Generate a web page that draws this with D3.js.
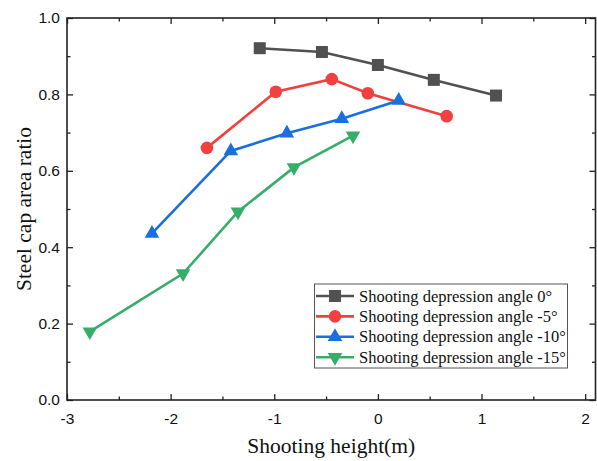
<!DOCTYPE html>
<html><head><meta charset="utf-8">
<script src="https://cdn.jsdelivr.net/npm/d3@7"></script>
<style>body{margin:0;background:#fff}svg{display:block}</style>
</head><body>
<svg id="c" width="597" height="461"></svg>
<script>
const seriesNames = ["Shooting depression angle 0°","Shooting depression angle -5°","Shooting depression angle -10°","Shooting depression angle -15°"];
const x0 = [-1.14,-0.54,0.00,0.54,1.14];
const y0 = [0.921,0.911,0.877,0.838,0.797];
const x5 = [-1.65,-0.985,-0.445,-0.097,0.664];
const y5 = [0.660,0.807,0.840,0.803,0.743];
const x10 = [-2.18,-1.419,-0.878,-0.348,0.201];
const y10 = [0.436,0.652,0.698,0.736,0.784];
const x15 = [-2.78,-1.88,-1.35,-0.81,-0.24];
const y15 = [0.179,0.331,0.493,0.609,0.692];
const xTicks = [-3,-2,-1,0,1,2];
const xTickLabels = ["-3","-2","-1","0","1","2"];
const yTicks = [0.0,0.2,0.4,0.6,0.8,1.0];
const yTickLabels = ["0.0","0.2","0.4","0.6","0.8","1.0"];
const xMinor = [-2.5,-1.5,-0.5,0.5,1.5];
const yMinor = [0.1,0.3,0.5,0.7,0.9];
const colors = ["#515151","#F14040","#1A6FDF","#37AD6B"];
const symbols = ["square","circle","up","down"];

const svg = d3.select("#c");
const L=67,R=595.5,T=18,B=400;
const x = d3.scaleLinear().domain([-3,2.1]).range([L,R]);
const y = d3.scaleLinear().domain([0,1]).range([B,T]);

const series = [[x0,y0],[x5,y5],[x10,y10],[x15,y15]].map((s,i)=>({
  name:seriesNames[i], color:colors[i], sym:symbols[i],
  pts:s[0].map((v,j)=>[v,s[1][j]])
}));

function marker(g, sym, color){
  if(sym==="square") g.append("rect").attr("x",-6).attr("y",-6).attr("width",12).attr("height",12).attr("fill",color);
  else if(sym==="circle") g.append("circle").attr("r",6.3).attr("fill",color);
  else if(sym==="up") g.append("path").attr("d","M0,-8.5L7.3,4.2L-7.3,4.2Z").attr("fill",color);
  else g.append("path").attr("d","M0,8.5L7.3,-4.2L-7.3,-4.2Z").attr("fill",color);
}

const line = d3.line().x(d=>x(d[0])).y(d=>y(d[1]));
series.forEach(s=>{
  svg.append("path").attr("d",line(s.pts)).attr("fill","none").attr("stroke",s.color).attr("stroke-width",2.6);
});
series.forEach(s=>{
  s.pts.forEach(p=>{
    const g=svg.append("g").attr("transform",`translate(${x(p[0])},${y(p[1])})`);
    marker(g,s.sym,s.color);
  });
});

// axes
const axCol="#222";
function style(g){
  g.selectAll(".domain").remove();
  g.selectAll(".tick line").attr("stroke",axCol).attr("stroke-width",1.3);
  g.selectAll("text").attr("font-family","'Liberation Sans',Arial,sans-serif").attr("font-size",15.5).attr("fill","#111");
}
svg.append("g").attr("transform",`translate(0,${B})`).call(d3.axisBottom(x).tickValues(xTicks).tickSize(-6).tickPadding(13).tickFormat((d,i)=>xTickLabels[i])).call(style);
svg.append("g").attr("transform",`translate(0,${B})`).call(d3.axisBottom(x).tickValues(xMinor).tickSize(-3.5).tickFormat("")).call(style);
svg.append("g").attr("transform",`translate(0,${T})`).call(d3.axisTop(x).tickValues(xTicks).tickSize(-6).tickFormat("")).call(style);
svg.append("g").attr("transform",`translate(0,${T})`).call(d3.axisTop(x).tickValues(xMinor).tickSize(-3.5).tickFormat("")).call(style);
svg.append("g").attr("transform",`translate(${L},0)`).call(d3.axisLeft(y).tickValues(yTicks).tickSize(-6).tickPadding(7).tickFormat((d,i)=>yTickLabels[i])).call(style);
svg.append("g").attr("transform",`translate(${L},0)`).call(d3.axisLeft(y).tickValues(yMinor).tickSize(-3.5).tickFormat("")).call(style);
svg.append("g").attr("transform",`translate(${R},0)`).call(d3.axisRight(y).tickValues(yTicks).tickSize(-6).tickFormat("")).call(style);
svg.append("g").attr("transform",`translate(${R},0)`).call(d3.axisRight(y).tickValues(yMinor).tickSize(-3.5).tickFormat("")).call(style);
svg.append("rect").attr("x",L).attr("y",T).attr("width",R-L).attr("height",B-T).attr("fill","none").attr("stroke",axCol).attr("stroke-width",1.6);

// titles
svg.append("text").attr("x",(L+R)/2).attr("y",453).attr("text-anchor","middle")
  .attr("font-family","'Liberation Serif','Times New Roman',serif").attr("font-size",21.5).attr("fill","#111").text("Shooting height(m)");
svg.append("text").attr("transform",`translate(31,${(T+B)/2}) rotate(-90)`).attr("text-anchor","middle")
  .attr("font-family","'Liberation Serif','Times New Roman',serif").attr("font-size",21.5).attr("fill","#111").text("Steel cap area ratio");

// legend
const lg = svg.append("g");
lg.append("rect").attr("x",314.5).attr("y",284).attr("width",253).attr("height",84).attr("fill","#fff").attr("stroke","#555").attr("stroke-width",1);
series.forEach((s,i)=>{
  const yy=296+i*20.4;
  lg.append("line").attr("x1",316).attr("x2",354).attr("y1",yy).attr("y2",yy).attr("stroke",s.color).attr("stroke-width",2.6);
  const g=lg.append("g").attr("transform",`translate(335,${yy})`);
  marker(g,s.sym,s.color);
  lg.append("text").attr("x",359).attr("y",yy+5.5).attr("font-family","'Liberation Serif','Times New Roman',serif")
    .attr("font-size",16.5).attr("fill","#111").text(s.name);
});
</script>
</body></html>
